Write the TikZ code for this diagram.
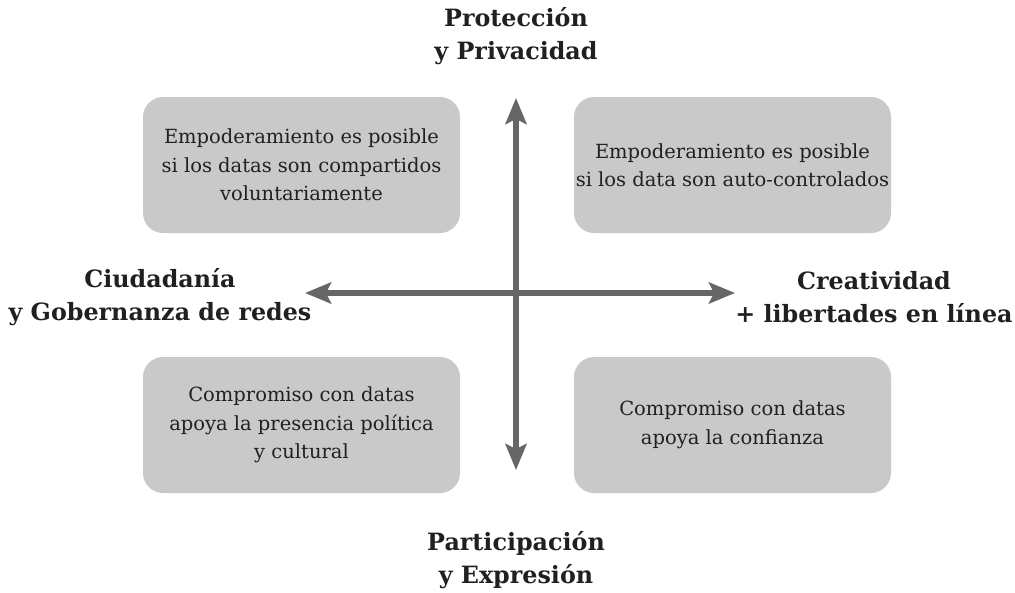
\documentclass[tikz,border=0pt]{standalone}
\usepackage{fontspec}
\setmainfont{DejaVu Serif}
\usetikzlibrary{arrows.meta}
\definecolor{boxgray}{HTML}{C9C9C9}
\definecolor{arrowgray}{HTML}{666666}
\definecolor{txt}{HTML}{231F20}
\tikzset{
  quad/.style={fill=boxgray, rounded corners=20pt, minimum width=317pt, minimum height=136pt, align=center, font=\fontsize{19.5}{28.5}\selectfont, text=txt, inner sep=0pt},
  axislabel/.style={align=center, font=\bfseries\fontsize{23.8}{33}\selectfont, text=txt, inner sep=0pt},
  axis/.style={draw=arrowgray, line width=6pt, {Stealth[length=26pt,width=21pt,inset=5pt]}-{Stealth[length=26pt,width=21pt,inset=5pt]}}
}
\begin{document}
\begin{tikzpicture}[x=1pt,y=-1pt]
\useasboundingbox (0,0) rectangle (1015,592);
\node[quad] (tl) at (301.5,165) {Empoderamiento es posible\\si los datas son compartidos\\voluntariamente};
\node[quad] (tr) at (732.5,165) {Empoderamiento es posible\\si los data son auto-controlados};
\node[quad] (bl) at (301.5,425) {Compromiso con datas\\apoya la presencia política\\y cultural};
\node[quad] (br) at (732.5,425) {Compromiso con datas\\apoya la confianza};
\coordinate (top) at (516,98);
\coordinate (bot) at (516,470);
\coordinate (lft) at (305,293);
\coordinate (rgt) at (735,293);
\draw[axis] (top) -- (bot);
\draw[axis] (lft) -- (rgt);
\node[axislabel] (ltop) at (516,36) {Protección\\y Privacidad};
\node[axislabel] (lbot) at (516,560) {Participación\\y Expresión};
\node[axislabel] (lleft) at (160,297) {Ciudadanía\\y Gobernanza de redes};
\node[axislabel] (lright) at (874,297) {Creatividad\\+ libertades en línea};
\end{tikzpicture}
\end{document}
